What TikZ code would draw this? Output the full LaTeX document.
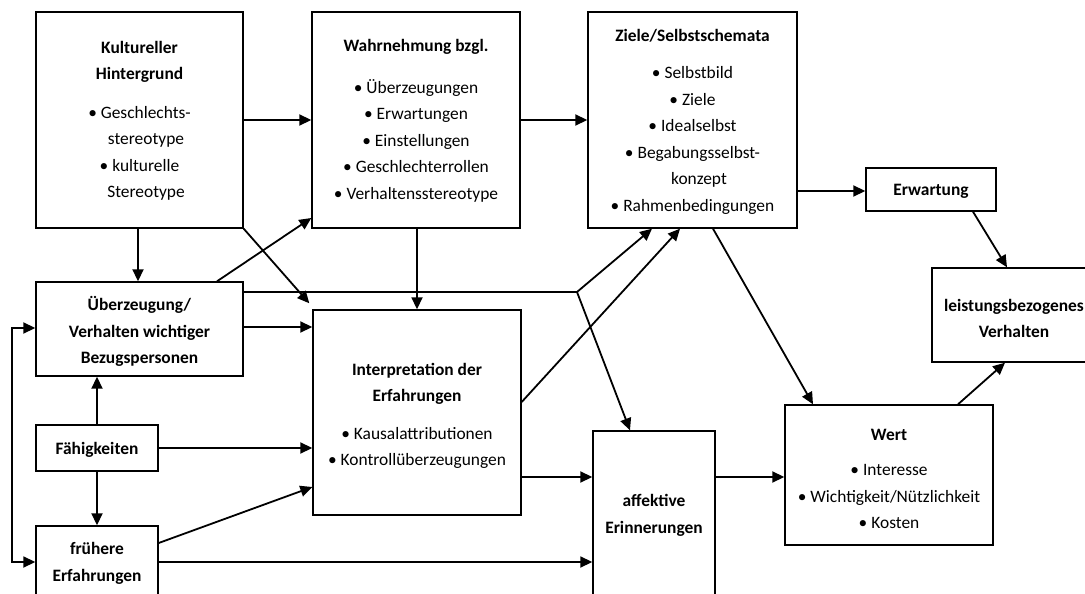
\documentclass[tikz,border=0pt]{standalone}
\usepackage{fontspec}
\setmainfont{Carlito}
\usetikzlibrary{arrows.meta,calc}
\begin{document}
\begin{tikzpicture}[x=1pt,y=-1pt,
  >={Triangle[length=12pt,width=11pt]},
  box/.style={draw=black,line width=1.4pt,inner sep=0pt},
  txt/.style={align=center,inner sep=0pt,font=\fontsize{17.4}{26.5}\selectfont},
  arr/.style={line width=1.8pt,->},
  ln/.style={line width=1.8pt}]
\clip (0,0) rectangle (1085,594);
\fill[white] (0,0) rectangle (1085,594);
% boxes
\node[box,minimum width=207pt,minimum height=216pt] (kult) at (139.5,120) {};
\node[box,minimum width=208pt,minimum height=216pt] (wahr) at (416,120) {};
\node[box,minimum width=209pt,minimum height=216pt] (ziele) at (692.5,120) {};
\node[box,minimum width=130pt,minimum height=43pt] (erw) at (931,189.5) {};
\node[box,minimum width=164pt,minimum height=94pt] (leist) at (1014,315) {};
\node[box,minimum width=207pt,minimum height=94pt] (ueber) at (139.5,329) {};
\node[box,minimum width=122pt,minimum height=46pt] (faeh) at (97,448) {};
\node[box,minimum width=122pt,minimum height=84pt] (frueh) at (97,568) {};
\node[box,minimum width=208pt,minimum height=205pt] (interp) at (417,412.5) {};
\node[box,minimum width=122pt,minimum height=179pt] (affekt) at (654,520.5) {};
\node[box,minimum width=208pt,minimum height=140pt] (wert) at (889,475) {};
% texts
\node[txt] (kult-t) at (139.5,121) {\textbf{Kultureller}\\\textbf{Hintergrund}\\[12pt]• Geschlechts-\\\hspace*{13pt}stereotype\\• kulturelle\\\hspace*{13pt}Stereotype};
\node[txt] (wahr-t) at (416,121) {\textbf{Wahrnehmung bzgl.}\\[15pt]• Überzeugungen\\• Erwartungen\\• Einstellungen\\• Geschlechterrollen\\• Verhaltensstereotype};
\node[txt] (ziele-t) at (692.5,121.5) {\textbf{Ziele/Selbstschemata}\\[11pt]• Selbstbild\\• Ziele\\• Idealselbst\\• Begabungsselbst-\\\hspace*{13pt}konzept\\• Rahmenbedingungen};
\node[txt] (erw-t) at (931,191) {\textbf{Erwartung}};
\node[txt] (leist-t) at (1014,318.5) {\textbf{leistungsbezogenes}\\\textbf{Verhalten}};
\node[txt] (ueber-t) at (139.5,331.5) {\textbf{Überzeugung/}\\\textbf{Verhalten wichtiger}\\\textbf{Bezugspersonen}};
\node[txt] (faeh-t) at (97,450) {\textbf{Fähigkeiten}};
\node[txt] (frueh-t) at (97,563.5) {\textbf{frühere}\\\textbf{Erfahrungen}};
\node[txt] (interp-t) at (417,416) {\textbf{Interpretation der}\\\textbf{Erfahrungen}\\[11pt]• Kausalattributionen\\• Kontrollüberzeugungen};
\node[txt] (affekt-t) at (654,515.5) {\textbf{affektive}\\\textbf{Erinnerungen}};
\node[txt] (wert-t) at (889,479) {\textbf{Wert}\\[9pt]• Interesse\\• Wichtigkeit/Nützlichkeit\\• Kosten};
% connectors
\draw[arr] (kult.east|-0,120) -- (wahr.west|-0,120);
\draw[arr] (wahr.east|-0,120) -- (ziele.west|-0,120);
\draw[arr] (kult.south-|138,0) -- (ueber.north-|138,0);
\draw[arr] (kult.south east) -- ($(interp.north west)+(-3,-6)$);
\draw[arr] (ueber.north-|217,0) -- (wahr.west|-0,218);
\coordinate (split) at (577,292);
\draw[ln] (ueber.east|-0,292) -- (split);
\draw[arr] (split) -- (ziele.south-|652,0);
\draw[arr] (split) -- (affekt.north-|630,0);
\draw[arr] (wahr.south-|417,0) -- (interp.north-|417,0);
\draw[arr] (ueber.east|-0,327) -- (interp.west|-0,327);
\draw[arr] (faeh.north-|97,0) -- (ueber.south-|97,0);
\draw[arr] (faeh.south-|97,0) -- (frueh.north-|97,0);
\draw[arr] (faeh.east|-0,448) -- (interp.west|-0,448);
\draw[arr] (frueh.east|-0,543) -- (interp.west|-0,487);
\draw[arr] (frueh.east|-0,562) -- (affekt.west|-0,562);
\draw[ln,<->] (ueber.west|-0,328) -- (12,328) -- (12,562) -- (frueh.west|-0,562);
\draw[arr] (interp.east|-0,477) -- (affekt.west|-0,477);
\draw[arr] (interp.east|-0,402) -- (ziele.south-|680,0);
\draw[arr] (affekt.east|-0,477) -- (wert.west|-0,477);
\draw[arr] (ziele.east|-0,191) -- (erw.west|-0,191);
\draw[arr] (ziele.south-|713,0) -- (wert.north-|813,0);
\draw[arr] (erw.south-|973,0) -- (leist.north-|1007,0);
\draw[arr] (wert.north-|958,0) -- (leist.south-|1005,0);
\end{tikzpicture}
\end{document}
